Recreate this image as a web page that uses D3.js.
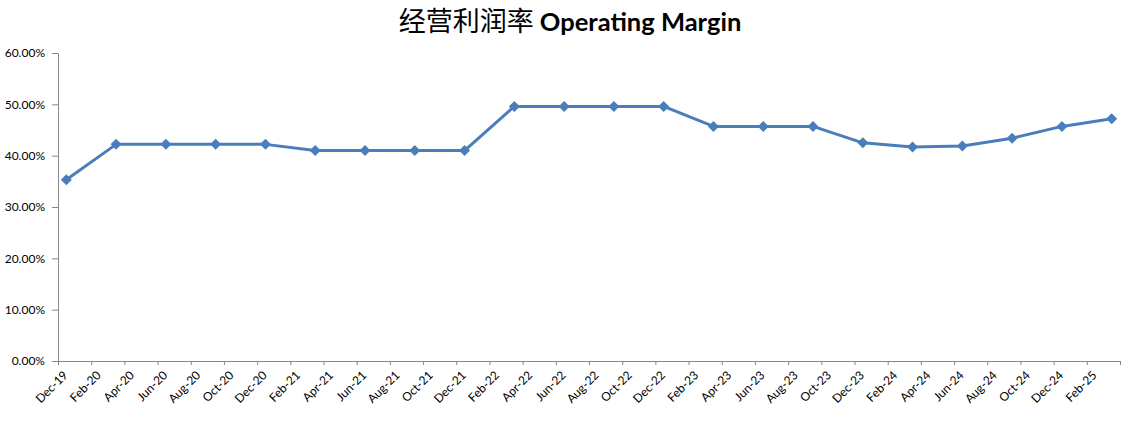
<!DOCTYPE html>
<html>
<head>
<meta charset="utf-8">
<script src="https://cdn.jsdelivr.net/npm/d3@7"></script>
<style>
  html, body { margin: 0; padding: 0; background: #fff; }
  svg { display: block; }
</style>
</head>
<body>
<svg id="chart" width="1145" height="435"></svg>
<script>
// ---- data ----
const periods = ["Dec-19","Mar-20","Jun-20","Sep-20","Dec-20","Mar-21","Jun-21","Sep-21","Dec-21",
                 "Mar-22","Jun-22","Sep-22","Dec-22","Mar-23","Jun-23","Sep-23","Dec-23",
                 "Mar-24","Jun-24","Sep-24","Dec-24","Mar-25"];
const operatingMargin = [0.353,0.422,0.422,0.422,0.422,0.410,0.410,0.410,0.410,
                         0.496,0.496,0.496,0.496,0.457,0.457,0.457,0.425,
                         0.417,0.419,0.434,0.457,0.472];
const xTickLabels = ["Dec-19","Feb-20","Apr-20","Jun-20","Aug-20","Oct-20","Dec-20","Feb-21","Apr-21",
                     "Jun-21","Aug-21","Oct-21","Dec-21","Feb-22","Apr-22","Jun-22","Aug-22","Oct-22",
                     "Dec-22","Feb-23","Apr-23","Jun-23","Aug-23","Oct-23","Dec-23","Feb-24","Apr-24",
                     "Jun-24","Aug-24","Oct-24","Dec-24","Feb-25"];
const yTicks = [0,0.1,0.2,0.3,0.4,0.5,0.6];
const titleCN = "经营利润率";
const titleEN = "Operating Margin";

(function () {
// ---- layout ----
const svg = d3.select("#chart");
const mLeft = 58, mRight = 1120, mTop = 53, mBottom = 361;
const parse = d3.timeParse("%b-%y");
const start = parse("Dec-19");
const monthIdx = s => d3.timeMonth.count(start, parse(s));
const nMonths = monthIdx("Mar-25") + 1;   // 64 month slots

const x = d3.scaleLinear().domain([0, nMonths]).range([mLeft, mRight]);
const y = d3.scaleLinear().domain([0, 0.6]).range([mBottom, mTop]);

const axisColor = "#868686";
const font = "Lato, 'Open Sans', sans-serif";

// Y axis
const yAxis = svg.append("g").attr("transform", `translate(${mLeft},0)`)
  .call(d3.axisLeft(y).tickValues(yTicks).tickFormat(d3.format(".2%")).tickSize(6).tickPadding(7).tickSizeOuter(0));
yAxis.select(".domain").attr("stroke", axisColor);
yAxis.selectAll(".tick line").attr("stroke", axisColor);
yAxis.selectAll("text").attr("font-family", font).attr("font-size", 12).attr("fill", "#000");

// X axis
const xTickVals = d3.range(0, nMonths + 1, 2);
const xAxis = svg.append("g").attr("transform", `translate(0,${mBottom})`)
  .call(d3.axisBottom(x).tickValues(xTickVals)
    .tickFormat(i => i / 2 < xTickLabels.length ? xTickLabels[i / 2] : "")
    .tickSize(4).tickSizeOuter(0));
xAxis.select(".domain").attr("stroke", axisColor);
xAxis.selectAll(".tick line").attr("stroke", axisColor);
xAxis.selectAll("text")
  .attr("font-family", font).attr("font-size", 12).attr("fill", "#000")
  .attr("text-anchor", "end")
  .attr("x", 0).attr("y", 0).attr("dy", 0)
  .attr("transform", "translate(10,15) rotate(-45)");

// Line
const pts = periods.map((p, i) => ({ xm: monthIdx(p) + 0.5, v: operatingMargin[i] }));
const color = "#4A7EBB";
svg.append("path")
  .datum(pts)
  .attr("fill", "none")
  .attr("stroke", color)
  .attr("stroke-width", 3)
  .attr("stroke-linejoin", "round")
  .attr("d", d3.line().x(d => x(d.xm)).y(d => y(d.v)));

// Diamond markers
const r = 5.5;
svg.append("g").selectAll("path")
  .data(pts).join("path")
  .attr("transform", d => `translate(${x(d.xm)},${y(d.v)})`)
  .attr("d", `M0,${-r}L${r},0L0,${r}L${-r},0Z`)
  .attr("fill", color);

// Title
const title = svg.append("text")
  .attr("x", 570).attr("y", 31)
  .attr("text-anchor", "middle")
  .attr("fill", "#000");
title.append("tspan").text(titleCN)
  .attr("font-family", "'Noto Sans CJK SC', sans-serif")
  .attr("font-size", 27);
title.append("tspan").text(" " + titleEN)
  .attr("font-family", font)
  .attr("font-weight", "bold")
  .attr("font-size", 25.5);
})();
</script>
</body>
</html>
